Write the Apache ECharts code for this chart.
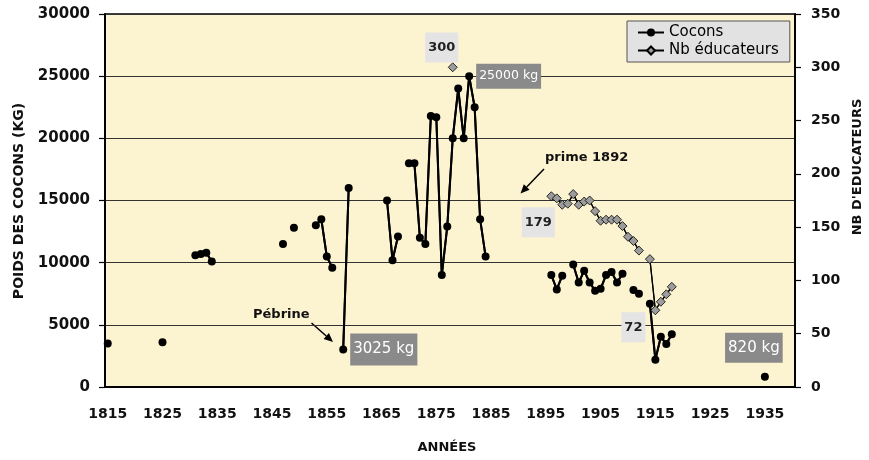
<!DOCTYPE html>
<html>
<head>
<meta charset="utf-8">
<script src="https://cdn.jsdelivr.net/npm/echarts@6/dist/echarts.min.js"></script>
<style>
  html, body { margin: 0; padding: 0; background: #fff; }
  #chart { width: 869px; height: 460px; }
</style>
</head>
<body>
<div id="chart"></div>
<script>
// years on the category axis (one slot per year)
var firstYear = 1815;
var lastYear = 1940;

// cocoon weight (kg)
var cocoonYears = [1815, 1825, 1831, 1832, 1833, 1834, 1847, 1849, 1853, 1854, 1855, 1856,
    1858, 1859, 1866, 1867, 1868, 1870, 1871, 1872, 1873, 1874, 1875, 1876, 1877, 1878,
    1879, 1880, 1881, 1882, 1883, 1884, 1896, 1897, 1898, 1900, 1901, 1902, 1903, 1904,
    1905, 1906, 1907, 1908, 1909, 1911, 1912, 1914, 1915, 1916, 1917, 1918, 1935];
var cocoonKg = [3500, 3600, 10600, 10700, 10800, 10100, 11500, 12800, 13000, 13500, 10500, 9600,
    3025, 16000, 15000, 10200, 12100, 18000, 18000, 12000, 11500, 21800, 21700, 9000, 12900, 20000,
    24000, 20000, 25000, 22500, 13500, 10500, 9000, 7850, 8950, 9850, 8400, 9350, 8400, 7750,
    7900, 9000, 9250, 8400, 9100, 7800, 7500, 6700, 2200, 4050, 3450, 4250, 820];

// number of silkworm breeders
var educYears = [1878, 1896, 1897, 1898, 1899, 1900, 1901, 1902, 1903, 1904, 1905, 1906,
    1907, 1908, 1909, 1910, 1911, 1912, 1914, 1915, 1916, 1917, 1918];
var educCount = [300, 179, 177, 171, 172, 181, 171, 174, 175, 165, 156, 157,
    157, 157, 151, 141, 137, 128, 120, 72, 80, 87, 94];

// years that carry a value label
var cocoonLabelYears = [1858, 1881, 1935];
var educLabelYears = [1878, 1896, 1915];

var FONT = 'DejaVu Sans';

var years = [];
for (var y = firstYear; y <= lastYear; y++) years.push(String(y));

/*------ label placement (style only) ------*/
var kgLabelPlace = {
    1858: {position: 'right', distance: 3, fontSize: 15, lineHeight: 18, padding: [7, 3, 7, 3]},
    1881: {position: 'right', distance: 3, fontSize: 12.5, lineHeight: 15, padding: [5, 3, 5, 3]},
    1935: {position: 'top', distance: 10, offset: [-11, 0], fontSize: 15, lineHeight: 18, padding: [6, 3, 6, 3]}
};
var educLabelPlace = {
    1878: {position: 'top', distance: 0, offset: [-11, 0]},
    1896: {position: 'bottom', distance: 6, offset: [-13, 0]},
    1915: {position: 'left', distance: 5, offset: [0, 17]}
};

// one slot per year, '-' where there is no value
function buildSeries(srcYears, srcValues, labelYears, labelFor) {
    return years.map(function (yr) {
        var i = srcYears.indexOf(+yr);
        if (i < 0) return '-';
        if (labelYears.indexOf(+yr) >= 0) {
            return {value: srcValues[i], label: labelFor(+yr)};
        }
        return srcValues[i];
    });
}

// pairs of consecutive years -> one segment each: [year, value, value of next year]
function buildSegments(srcYears, srcValues) {
    var out = [];
    for (var i = 0; i < srcYears.length - 1; i++) {
        if (srcYears[i + 1] === srcYears[i] + 1) {
            out.push([String(srcYears[i]), srcValues[i], srcValues[i + 1]]);
        }
    }
    return out;
}

var cocoonData = buildSeries(cocoonYears, cocoonKg, cocoonLabelYears, function (yr) {
    return Object.assign({
        show: true,
        formatter: '{c} kg',
        color: '#fff',
        fontFamily: FONT,
        backgroundColor: '#8a8a8a'
    }, kgLabelPlace[yr]);
});

var educData = buildSeries(educYears, educCount, educLabelYears, function (yr) {
    return Object.assign({
        show: true,
        formatter: '{c}',
        color: '#222',
        fontFamily: FONT,
        fontWeight: 'bold',
        fontSize: 13,
        lineHeight: 15,
        padding: [8, 3, 7, 3],
        backgroundColor: '#e4e4e4'
    }, educLabelPlace[yr]);
});

function segmentRenderer(width) {
    return function (params, api) {
        var i = api.value(0);
        var p1 = api.coord([i, api.value(1)]);
        var p2 = api.coord([i + 1, api.value(2)]);
        return {
            type: 'line',
            shape: {x1: p1[0], y1: p1[1], x2: p2[0], y2: p2[1]},
            style: {stroke: '#000', lineWidth: width}
        };
    };
}

/*------ arrows for the text notes ------*/
function arrow(x1, y1, x2, y2) {
    var a = Math.atan2(y2 - y1, x2 - x1);
    var len = 9, w = 4;
    var bx = x2 - len * Math.cos(a), by = y2 - len * Math.sin(a);
    var px = -Math.sin(a) * w, py = Math.cos(a) * w;
    return [
        {type: 'line', shape: {x1: x1, y1: y1, x2: bx, y2: by}, style: {stroke: '#000', lineWidth: 1.5}},
        {type: 'polygon', shape: {points: [[x2, y2], [bx + px, by + py], [bx - px, by - py]]}, style: {fill: '#000'}}
    ];
}

var boldText = {fontFamily: FONT, fontWeight: 'bold', fill: '#111'};

var graphics = [
    {type: 'text', x: 19, y: 201, rotation: Math.PI / 2,
        style: Object.assign({text: 'POIDS DES COCONS (KG)', fontSize: 14, align: 'center', verticalAlign: 'middle'}, boldText)},
    {type: 'text', x: 858, y: 167, rotation: Math.PI / 2,
        style: Object.assign({text: "NB D'EDUCATEURS", fontSize: 13, align: 'center', verticalAlign: 'middle'}, boldText)},
    {type: 'text', x: 447, y: 448,
        style: Object.assign({text: 'ANNÉES', fontSize: 13, align: 'center', verticalAlign: 'middle'}, boldText)},
    {type: 'text', x: 545, y: 158,
        style: Object.assign({text: 'prime 1892', fontSize: 13, align: 'left', verticalAlign: 'middle'}, boldText)},
    {type: 'text', x: 253, y: 315,
        style: Object.assign({text: 'Pébrine', fontSize: 13, align: 'left', verticalAlign: 'middle'}, boldText)}
].concat(arrow(544, 169, 520.5, 193.5), arrow(311.5, 323, 333, 342));

var myChart = echarts.init(document.getElementById('chart'));

var option = {
    animation: false,
    textStyle: {fontFamily: FONT},
    grid: {
        left: 105,
        right: 74,
        top: 14,
        bottom: 73,
        show: true,
        backgroundColor: '#fcf3d0',
        borderColor: '#000',
        borderWidth: 1.5
    },
    legend: {
        orient: 'vertical',
        left: 627,
        top: 21,
        padding: [4, 11, 4, 10],
        itemGap: 3,
        itemWidth: 26,
        itemHeight: 10,
        backgroundColor: '#e2e2e2',
        borderColor: '#555',
        borderWidth: 1,
        textStyle: {fontFamily: FONT, fontSize: 15, color: '#000'},
        data: ['Cocons', 'Nb éducateurs']
    },
    xAxis: {
        type: 'category',
        data: years,
        boundaryGap: true,
        axisLine: {lineStyle: {color: '#000', width: 2}},
        axisTick: {interval: 4, length: 6, lineStyle: {color: '#000', width: 1.2}},
        axisLabel: {interval: 9, margin: 20, fontSize: 14, fontWeight: 'bold', color: '#111'},
        splitLine: {show: false}
    },
    yAxis: [{
        type: 'value',
        min: 0,
        max: 30000,
        interval: 5000,
        axisLine: {show: true, lineStyle: {color: '#000', width: 2}},
        axisTick: {show: true, length: 6, lineStyle: {color: '#000', width: 1.2}},
        axisLabel: {
            margin: 15, fontSize: 15, fontWeight: 'bold', color: '#111',
            formatter: function (v) { return String(v); }
        },
        splitLine: {show: true, lineStyle: {color: '#333', width: 1}}
    }, {
        type: 'value',
        position: 'right',
        min: 0,
        max: 350,
        interval: 50,
        axisLine: {show: true, lineStyle: {color: '#000', width: 2}},
        axisTick: {show: true, length: 6, lineStyle: {color: '#000', width: 1.2}},
        axisLabel: {margin: 16, fontSize: 14, fontWeight: 'bold', color: '#111'},
        splitLine: {show: false}
    }],
    graphic: graphics,
    series: [{
        name: 'Nb éducateurs',
        type: 'line',
        yAxisIndex: 1,
        data: educData,
        z: 3,
        showAllSymbol: true,
        symbol: 'diamond',
        symbolSize: 9,
        itemStyle: {color: '#9c9c9c', borderColor: '#000', borderWidth: 0.8},
        lineStyle: {color: '#000', width: 1.2}
    }, {
        name: 'Cocons',
        type: 'line',
        yAxisIndex: 0,
        data: cocoonData,
        z: 3,
        showAllSymbol: true,
        symbol: 'circle',
        symbolSize: 8,
        itemStyle: {color: '#000'},
        lineStyle: {color: '#000', width: 2}
    }, {
        // joining segments, educators
        name: 'educ-lines',
        type: 'custom',
        yAxisIndex: 1,
        silent: true,
        z: 2,
        data: buildSegments(educYears, educCount),
        encode: {x: 0, y: [1, 2]},
        renderItem: segmentRenderer(1.2)
    }, {
        // joining segments, cocoons
        name: 'cocoon-lines',
        type: 'custom',
        yAxisIndex: 0,
        silent: true,
        z: 2,
        data: buildSegments(cocoonYears, cocoonKg),
        encode: {x: 0, y: [1, 2]},
        renderItem: segmentRenderer(2)
    }]
};

myChart.setOption(option);
</script>
</body>
</html>
